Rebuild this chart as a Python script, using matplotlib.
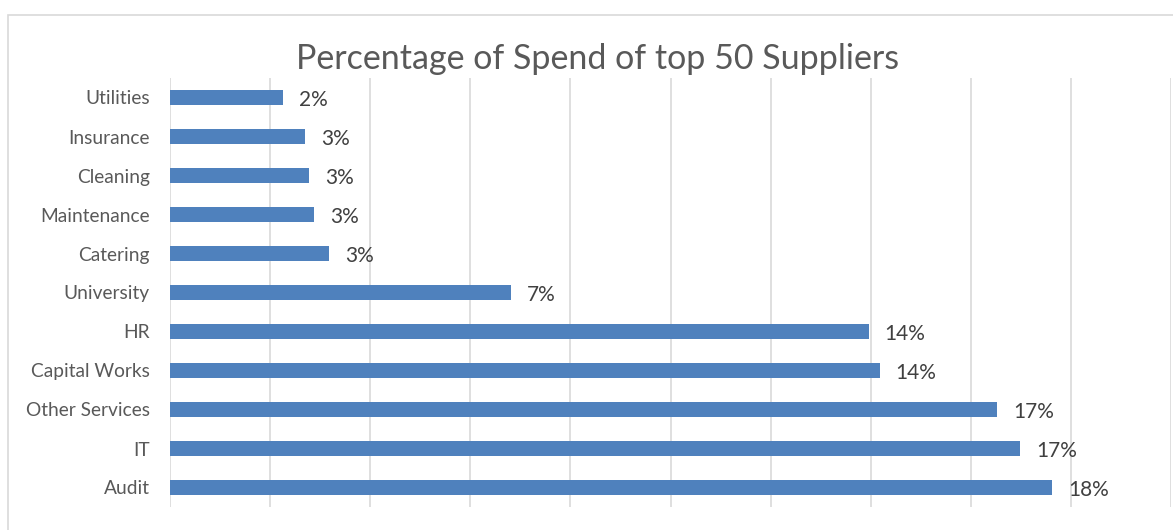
import matplotlib.pyplot as plt
from matplotlib.patches import Rectangle
import numpy as np

categories = ["Audit", "IT", "Other Services", "Capital Works", "HR", "University",
              "Catering", "Maintenance", "Cleaning", "Insurance", "Utilities"]
spend_pct = [17.62, 16.98, 16.52, 14.18, 13.96, 6.82, 3.18, 2.88, 2.78, 2.70, 2.26]

BAR = "#4F81BD"
GRID = "#D9D9D9"
TEXT = "#595959"

plt.rcParams["font.family"] = ["Lato", "DejaVu Sans"]

fig = plt.figure(figsize=(11.73, 5.30), dpi=100)
ax = fig.add_axes([170 / 1173, 23 / 530, 1001 / 1173, 429 / 530])

y = np.arange(len(categories))
ax.barh(y, spend_pct, height=0.38, color=BAR, zorder=3)
for yi, v in zip(y, spend_pct):
    ax.text(v + 0.32, yi - 0.06, f"{v:.0f}%", va="center", ha="left",
            fontsize=15, color="#404040")

ax.set_xlim(0, 20)
ax.set_ylim(-0.5, len(categories) - 0.5)
ax.set_xticks(np.arange(0, 20.1, 2))
ax.set_xticklabels([])
ax.tick_params(axis="x", length=0)
ax.tick_params(axis="y", length=0, pad=14.5, labelsize=13.8, labelcolor=TEXT)
ax.set_yticks(y)
ax.set_yticklabels(categories)
ax.grid(axis="x", color=GRID, linewidth=1.2, zorder=0)
for s in ax.spines.values():
    s.set_visible(False)

fig.text(598 / 1173, 1 - 59 / 530, "Percentage of Spend of top 50 Suppliers",
         ha="center", va="center", fontsize=24.5, color=TEXT)

# chart frame
fig.patches.append(Rectangle((8 / 1173, -0.1), 1.2, 1 - 15 / 530 + 0.1,
                             transform=fig.transFigure, fill=False,
                             edgecolor=GRID, linewidth=1.2))

fig.savefig("out.png", dpi=100)
